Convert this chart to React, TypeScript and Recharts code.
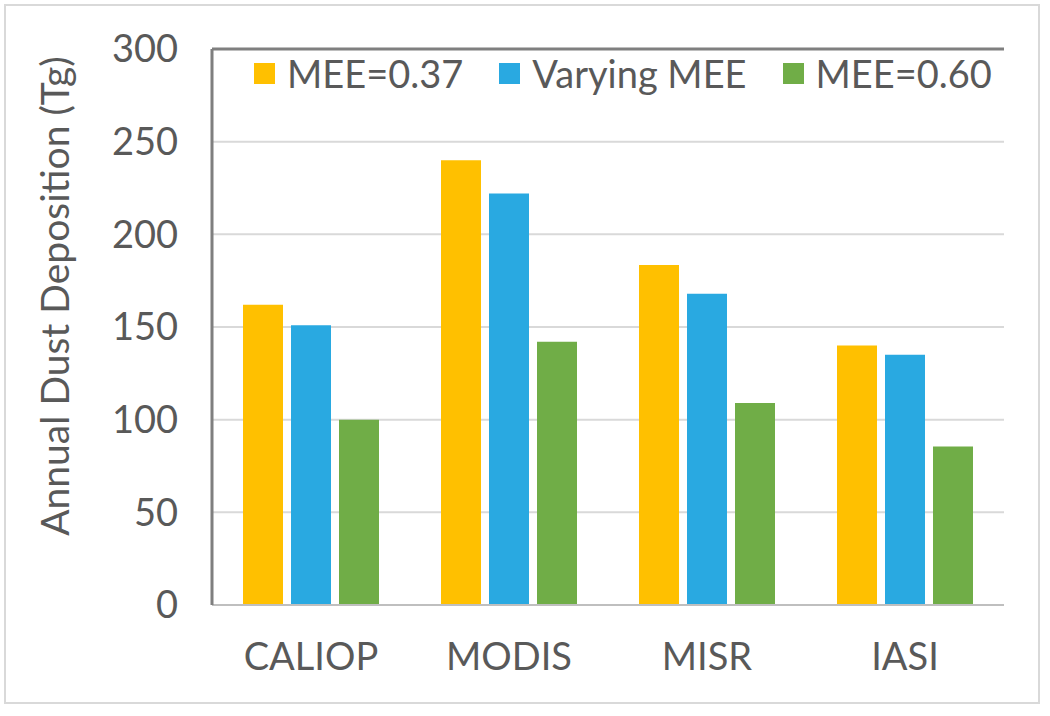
import { Bar, BarChart, CartesianGrid, ReferenceLine, XAxis, YAxis } from "recharts"

const categories = ["CALIOP", "MODIS", "MISR", "IASI"]
const mee037 = [162, 240, 183.5, 140]
const varyingMee = [151, 222, 168, 135]
const mee060 = [100, 142, 109, 85.5]
const yTicks = [0, 50, 100, 150, 200, 250, 300]

const series = [
  { key: "mee037", name: "MEE=0.37", color: "#FFC000" },
  { key: "varying", name: "Varying MEE", color: "#29A9E1" },
  { key: "mee060", name: "MEE=0.60", color: "#70AD47" },
]

const data = categories.map((name, i) => ({
  name,
  mee037: mee037[i],
  varying: varyingMee[i],
  mee060: mee060[i],
}))

const FONT = "Lato, 'Open Sans', sans-serif"
const TEXT = "#595959"

// legend sits inside the plot, top-left
const LegendBox = () => (
  <div
    style={{
      position: "absolute",
      top: 54,
      left: 254,
      display: "flex",
      alignItems: "center",
      fontFamily: FONT,
      fontSize: 38,
      color: TEXT,
    }}
  >
    {series.map((s) => (
      <div key={s.key} style={{ display: "flex", alignItems: "center", marginRight: 36 }}>
        <span style={{ width: 21, height: 21, background: s.color, display: "inline-block", marginRight: 12 }} />
        <span style={{ lineHeight: "38px" }}>{s.name}</span>
      </div>
    ))}
  </div>
)

export default function App() {
  return (
    <div style={{ position: "absolute", left: 0, top: 0, width: 1050, height: 716, background: "#fff" }}>
      <div
        style={{
          position: "absolute",
          left: 4,
          top: 4,
          width: 1032,
          height: 696,
          border: "2px solid #d9d9d9",
        }}
      />
      <BarChart
        width={1050}
        height={716}
        data={data}
        margin={{ top: 49, right: 46, bottom: 0, left: 0 }}
        barSize={40}
        barGap={8}
        style={{ position: "absolute", left: 0, top: 0 }}
      >
        <CartesianGrid vertical={false} stroke="#d9d9d9" strokeWidth={2} />
        <XAxis
          dataKey="name"
          height={111}
          tickSize={0}
          tickMargin={38}
          axisLine={{ stroke: "#bfbfbf", strokeWidth: 2 }}
          tick={{ fill: TEXT, fontSize: 38, fontFamily: FONT }}
        />
        <YAxis
          width={212}
          domain={[0, 300]}
          ticks={yTicks}
          tickSize={0}
          tickMargin={34}
          axisLine={{ stroke: "#7f7f7f", strokeWidth: 3 }}
          tick={{ fill: TEXT, fontSize: 38, fontFamily: FONT }}
          label={{
            content: () => (
              <text
                x={54}
                y={296}
                transform="rotate(-90, 54, 296)"
                textAnchor="middle"
                dominantBaseline="central"
                fill={TEXT}
                fontSize={39}
                fontFamily={FONT}
              >
                Annual Dust Deposition (Tg)
              </text>
            ),
          }}
        />
        <YAxis yAxisId="right" orientation="right" width={0} domain={[0, 300]} tick={false} tickLine={false} axisLine={{ stroke: "#7f7f7f", strokeWidth: 3 }} />
        <ReferenceLine y={300} stroke="#7f7f7f" strokeWidth={3} />
        {series.map((s) => (
          <Bar key={s.key} dataKey={s.key} name={s.name} fill={s.color} isAnimationActive={false} />
        ))}
      </BarChart>
      <LegendBox />
    </div>
  )
}
